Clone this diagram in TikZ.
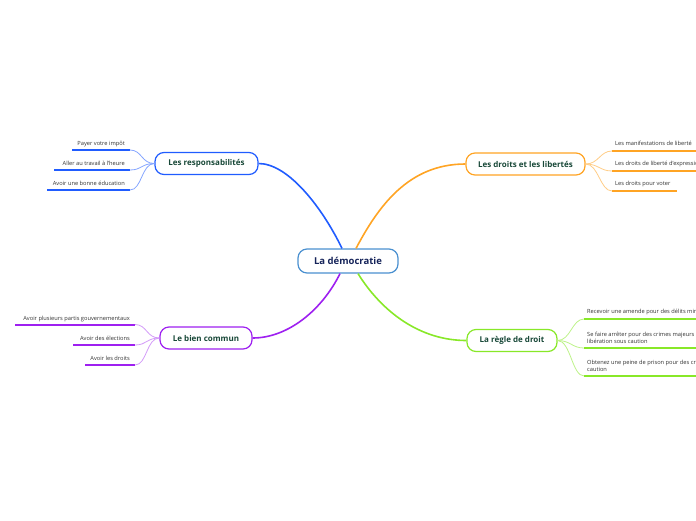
\documentclass[tikz,border=0pt]{standalone}
\usepackage{fontspec}
\setmainfont{Open Sans}
\definecolor{cblue}{RGB}{32,92,255}
\definecolor{corange}{RGB}{255,164,36}
\definecolor{cpurple}{RGB}{158,32,240}
\definecolor{cgreen}{RGB}{136,232,40}
\definecolor{ccentral}{RGB}{74,144,208}
\definecolor{titlegreen}{RGB}{24,72,56}
\definecolor{titlenavy}{RGB}{22,36,90}
\definecolor{leaftext}{RGB}{50,50,50}
\begin{document}
\begin{tikzpicture}[x=1pt,y=-1pt,
  topic/.style={draw, rounded corners=9pt, line width=1.2pt, fill=white, inner sep=0pt,
    minimum height=22pt, font=\bfseries\fontsize{8}{9}\selectfont, text=titlegreen},
  centraltopic/.style={topic, draw=ccentral, minimum height=24pt, text=titlenavy,
    font=\bfseries\fontsize{9.5}{11}\selectfont},
  mainline/.style={line width=1.6pt},
  leafline/.style={line width=0.8pt},
  uline/.style={line width=2pt},
  leaf/.style={inner sep=0pt, font=\fontsize{5.7}{7.5}\selectfont, text=leaftext}
]
\useasboundingbox (0,0) rectangle (696,520);
\clip (0,0) rectangle (696,520);

% topics
\node[centraltopic, minimum width=100pt] (c) at (348,261) {La démocratie};
\node[topic, draw=cblue, minimum width=103pt] (resp) at (206.5,163.5) {Les responsabilités};
\node[topic, draw=corange, minimum width=119pt] (droits) at (525.5,164) {Les droits et les libertés};
\node[topic, draw=cpurple, minimum width=92pt] (bien) at (206,338) {Le bien commun};
\node[topic, draw=cgreen, minimum width=90pt] (regle) at (512,340.5) {La règle de droit};

% main connectors
\draw[mainline, cblue] ([xshift=-6pt]c.north) .. controls (322,207) and (288,163.5) .. (resp.east);
\draw[mainline, corange] ([xshift=8pt]c.north) .. controls (378,207) and (408,164) .. (droits.west);
\draw[mainline, cpurple] ([xshift=-8pt]c.south) .. controls (322,310) and (288,338) .. (bien.east);
\draw[mainline, cgreen] ([xshift=10pt]c.south) .. controls (382,312) and (420,340.5) .. (regle.west);

% responsabilites leaves
\coordinate (ra) at (72,150); \coordinate (rb) at (130,150);
\coordinate (sa) at (54,170); \coordinate (sb) at (130,170);
\coordinate (ta) at (47,190); \coordinate (tb) at (130,190);
\draw[uline, cblue] (ra) -- (rb);
\draw[uline, cblue] (sa) -- (sb);
\draw[uline, cblue] (ta) -- (tb);
\draw[leafline, cblue!55] (resp.west) .. controls +(-13,0) and +(12,0) .. (rb);
\draw[leafline, cblue!55] (resp.west) .. controls +(-13,0) and +(12,0) .. (sb);
\draw[leafline, cblue!55] (resp.west) .. controls +(-13,0) and +(12,0) .. (tb);
\node[leaf, anchor=base east] (r1t) at (125,145) {Payer votre impôt};
\node[leaf, anchor=base east] (r2t) at (125,165) {Aller au travail à l'heure};
\node[leaf, anchor=base east] (r3t) at (125,185) {Avoir une bonne éducation};

% bien commun leaves
\coordinate (ba) at (15,324.5); \coordinate (bb) at (135,324.5);
\coordinate (ea) at (73,345); \coordinate (eb) at (135,345);
\coordinate (fa) at (85,365); \coordinate (fb) at (135,365);
\draw[uline, cpurple] (ba) -- (bb);
\draw[uline, cpurple] (ea) -- (eb);
\draw[uline, cpurple] (fa) -- (fb);
\draw[leafline, cpurple!45] (bien.west) .. controls +(-13,0) and +(12,0) .. (bb);
\draw[leafline, cpurple!45] (bien.west) .. controls +(-13,0) and +(12,0) .. (eb);
\draw[leafline, cpurple!45] (bien.west) .. controls +(-13,0) and +(12,0) .. (fb);
\node[leaf, anchor=base east] (b1t) at (130,320) {Avoir plusieurs partis gouvernementaux};
\node[leaf, anchor=base east] (b2t) at (130,340) {Avoir des élections};
\node[leaf, anchor=base east] (b3t) at (130,360) {Avoir les droits};

% droits leaves
\coordinate (da) at (612,151); \coordinate (db) at (700,151);
\coordinate (ha) at (612,171); \coordinate (hb) at (700,171);
\coordinate (ka) at (612,191); \coordinate (kb) at (677,191);
\draw[uline, corange] (da) -- (db);
\draw[uline, corange] (ha) -- (hb);
\draw[uline, corange] (ka) -- (kb);
\draw[leafline, corange!55] (droits.east) .. controls +(13,0) and +(-12,0) .. (da);
\draw[leafline, corange!55] (droits.east) .. controls +(13,0) and +(-12,0) .. (ha);
\draw[leafline, corange!55] (droits.east) .. controls +(13,0) and +(-12,0) .. (ka);
\node[leaf, anchor=base west] (d1t) at (615,145) {Les manifestations de liberté};
\node[leaf, anchor=base west] (d2t) at (615,165) {Les droits de liberté d'expression};
\node[leaf, anchor=base west] (d3t) at (615,185) {Les droits pour voter};

% regle leaves
\coordinate (ga) at (584,319); \coordinate (gb) at (700,319);
\coordinate (ma) at (584,348); \coordinate (mb) at (700,348);
\coordinate (na) at (584,376); \coordinate (nb) at (700,376);
\draw[uline, cgreen] (ga) -- (gb);
\draw[uline, cgreen] (ma) -- (mb);
\draw[uline, cgreen] (na) -- (nb);
\draw[leafline, cgreen!55] (regle.east) .. controls +(13,0) and +(-12,0) .. (ga);
\draw[leafline, cgreen!55] (regle.east) .. controls +(13,0) and +(-12,0) .. (ma);
\draw[leafline, cgreen!55] (regle.east) .. controls +(13,0) and +(-12,0) .. (na);
\node[leaf, anchor=base west] (g1t) at (587,313) {Recevoir une amende pour des délits mineurs};
\node[leaf, anchor=south west, align=left] (g2t) at (587,344) {Se faire arrêter pour des crimes majeurs sans\\libération sous caution};
\node[leaf, anchor=south west, align=left] (g3t) at (587,372) {Obtenez une peine de prison pour des crimes sans\\caution};
\end{tikzpicture}
\end{document}
